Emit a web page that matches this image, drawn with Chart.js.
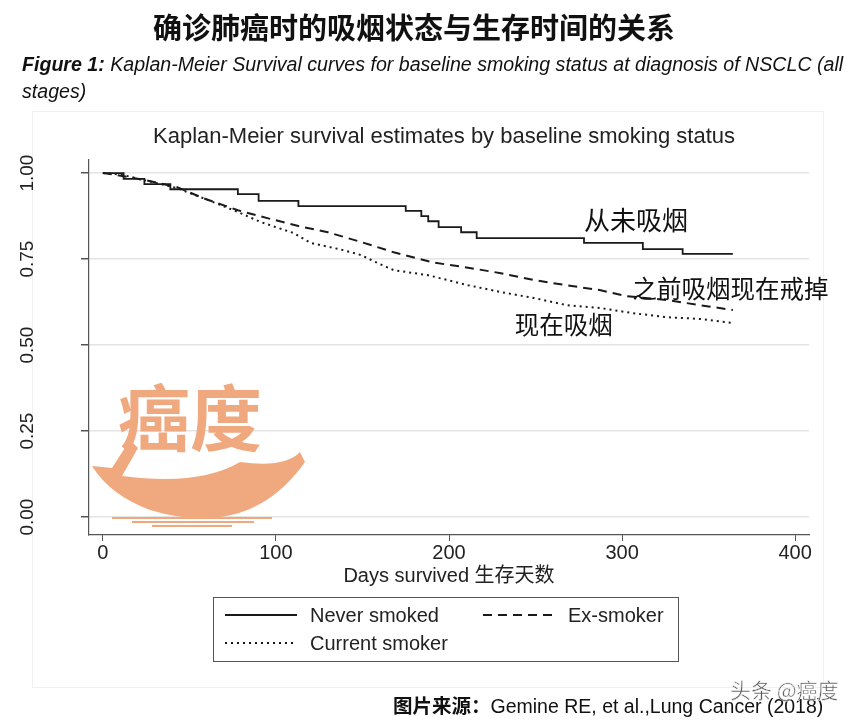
<!DOCTYPE html>
<html>
<head>
<meta charset="utf-8">
<script src="https://cdn.jsdelivr.net/npm/chart.js@4.4.1/dist/chart.umd.min.js"></script>
<style>
  html, body { margin: 0; padding: 0; background: #fff; }
  #wrap { position: relative; width: 864px; height: 725px; overflow: hidden; }
  #frame { position: absolute; left: 32px; top: 111px; width: 792px; height: 577px; border: 1px solid #f0f0f0; box-sizing: border-box; }
  #c { position: absolute; left: 0; top: 0; }
  #head { position: absolute; left: 0; width: 828px; top: 5px; text-align: center; font-family: "Noto Sans CJK SC"; font-weight: 700; font-size: 29px; color: #111; }
  #cap { position: absolute; left: 22px; top: 51px; font-family: "Liberation Sans"; font-style: italic; font-size: 19.6px; line-height: 27px; color: #111; }
  #src { position: absolute; left: 393px; top: 690px; font-family: "Liberation Sans", "Noto Sans CJK SC"; font-size: 19.5px; color: #111; }
  #src b { font-family: "Noto Sans CJK SC"; font-weight: 700; }
  #wm { position: absolute; left: 730px; top: 674px; font-family: "Noto Sans CJK SC"; font-size: 21px; color: rgba(60,60,60,0.85); -webkit-text-stroke: 0.5px #fff; }
</style>
</head>
<body>
<div id="wrap">
  <div id="frame"></div>
  <canvas id="c" width="864" height="725"></canvas>
  <div id="head">确诊肺癌时的吸烟状态与生存时间的关系</div>
  <div id="cap"><b>Figure 1:</b> Kaplan-Meier Survival curves for baseline smoking status at diagnosis of NSCLC (all<br>stages)</div>
  <div id="src"><b>图片来源：</b>Gemine RE, et al.,Lung Cancer (2018)</div>
  <div id="wm">头条 @癌度</div>
</div>
<script>
// survival estimates (days, survival)
const neverDays = [0, 12, 24, 39, 78, 90, 113, 175, 184, 188, 194, 207, 216, 278, 312, 335, 364];
const neverSurv = [1.0, 0.983, 0.968, 0.953, 0.939, 0.919, 0.904, 0.890, 0.875, 0.860, 0.843, 0.828, 0.811, 0.797, 0.779, 0.765, 0.765];

const exDays = [0, 6, 12, 24, 43, 58, 78, 95, 113, 130, 149, 168, 191, 211, 230, 249, 268, 287, 303, 326, 345, 364];
const exSurv = [1.0, 0.996, 0.991, 0.980, 0.959, 0.927, 0.892, 0.869, 0.846, 0.828, 0.800, 0.770, 0.740, 0.725, 0.709, 0.689, 0.674, 0.660, 0.642, 0.631, 0.616, 0.602];

const curDays = [0, 6, 12, 43, 58, 78, 91, 110, 120, 139, 149, 159, 168, 188, 211, 230, 249, 268, 287, 306, 326, 345, 364];
const curSurv = [1.0, 0.998, 0.994, 0.956, 0.927, 0.887, 0.858, 0.826, 0.797, 0.776, 0.762, 0.738, 0.718, 0.703, 0.674, 0.654, 0.637, 0.616, 0.608, 0.593, 0.581, 0.576, 0.564];

const seriesNames = ['Never smoked', 'Ex-smoker', 'Current smoker'];
const xTicks = [0, 100, 200, 300, 400];
const yTicks = [0, 0.25, 0.5, 0.75, 1];

const pts = (xs, ys) => xs.map((x, i) => ({x: x, y: ys[i]}));
const ctx = document.getElementById('c').getContext('2d');

// left axis labels, rotated like the Stata original
const yLabels = {
    id: 'yLabels',
    afterDraw: (chart) => {
        const c = chart.ctx, y = chart.scales.y;
        c.save();
        c.font = '19px "Liberation Sans"';
        c.fillStyle = '#222';
        c.textAlign = 'center';
        c.textBaseline = 'middle';
        yTicks.forEach(v => {
            c.save();
            c.translate(28, y.getPixelForValue(v));
            c.rotate(-Math.PI / 2);
            c.fillText(v.toFixed(2), 0, 0);
            c.restore();
        });
        c.restore();
    }
};

// faint logo watermark behind the curves
const logo = {
    id: 'logo',
    beforeDatasetsDraw: (chart) => {
        const c = chart.ctx;
        c.save();
        c.fillStyle = '#f0a97f';
        c.beginPath();
        c.moveTo(92, 466);
        c.lineTo(112, 468);
        c.lineTo(130, 440);
        c.lineTo(138, 448);
        c.lineTo(122, 476);
        c.quadraticCurveTo(200, 486, 240, 462);
        c.quadraticCurveTo(285, 468, 300, 452);
        c.lineTo(305, 462);
        c.quadraticCurveTo(250, 540, 150, 510);
        c.quadraticCurveTo(110, 495, 92, 466);
        c.closePath();
        c.fill();
        c.font = 'bold 72px "Noto Sans CJK SC"';
        c.textBaseline = 'middle';
        c.fillText('癌度', 118, 418);
        c.fillRect(112, 517, 160, 2);
        c.fillRect(132, 521, 122, 2);
        c.fillRect(152, 525, 80, 2);
        c.restore();
    }
};

// chinese curve labels
const notes = {
    id: 'notes',
    afterDatasetsDraw: (chart) => {
        const c = chart.ctx, x = chart.scales.x, y = chart.scales.y;
        c.save();
        c.fillStyle = '#111';
        c.textBaseline = 'middle';
        c.font = '26px "Noto Sans CJK SC"';
        c.fillText('从未吸烟', x.getPixelForValue(278), y.getPixelForValue(0.863));
        c.font = '24.5px "Noto Sans CJK SC"';
        c.fillText('之前吸烟现在戒掉', x.getPixelForValue(306), y.getPixelForValue(0.663));
        c.fillText('现在吸烟', x.getPixelForValue(238), y.getPixelForValue(0.558));
        c.restore();
    }
};

// boxed legend, two columns
const boxLegend = {
    id: 'boxLegend',
    afterDraw: (chart) => {
        const c = chart.ctx;
        const ds = chart.data.datasets;
        const spots = [[225, 615], [483, 615], [225, 643]];
        c.save();
        c.strokeStyle = '#555';
        c.lineWidth = 1;
        c.strokeRect(213.5, 597.5, 465, 64);
        c.font = '20px "Liberation Sans"';
        c.fillStyle = '#222';
        c.textBaseline = 'middle';
        ds.forEach((d, i) => {
            const [sx, sy] = spots[i];
            c.save();
            c.strokeStyle = d.borderColor;
            c.lineWidth = d.borderWidth;
            c.setLineDash(d.borderDash || []);
            c.beginPath();
            c.moveTo(sx, sy);
            c.lineTo(sx + 72, sy);
            c.stroke();
            c.restore();
            c.fillText(d.label, sx + 85, sy + 1);
        });
        c.restore();
    }
};

const myChart = new Chart(ctx, {
    type: 'line',
    data: {
        datasets: [
            {label: seriesNames[0], data: pts(neverDays, neverSurv), stepped: true, borderColor: '#1a1a1a', borderWidth: 1.8, pointRadius: 0},
            {label: seriesNames[1], data: pts(exDays, exSurv), borderColor: '#1a1a1a', borderWidth: 2, borderDash: [9, 6], pointRadius: 0},
            {label: seriesNames[2], data: pts(curDays, curSurv), borderColor: '#1a1a1a', borderWidth: 2, borderDash: [2, 4], pointRadius: 0}
        ]
    },
    options: {
        responsive: false,
        animation: false,
        layout: {padding: {left: 79, right: 55, top: 112, bottom: 130}},
        plugins: {
            legend: {display: false},
            tooltip: {enabled: false},
            title: {
                display: true,
                text: 'Kaplan-Meier survival estimates by baseline smoking status',
                color: '#222',
                font: {family: 'Liberation Sans', size: 22, weight: 'normal', lineHeight: 1.2},
                padding: {top: 12, bottom: 9.6}
            }
        },
        scales: {
            x: {
                type: 'linear',
                min: -8,
                max: 408,
                afterBuildTicks: (s) => { s.ticks = xTicks.map(v => ({value: v})); },
                afterFit: (s) => { s.height = 60; },
                grid: {drawOnChartArea: false, tickLength: 6, tickColor: '#555'},
                border: {color: '#555', width: 1.2},
                ticks: {color: '#222', padding: 0, font: {family: 'Liberation Sans', size: 20}, maxRotation: 0},
                title: {display: true, text: 'Days survived 生存天数', color: '#222',
                        font: {family: 'Liberation Sans, Noto Sans CJK SC', size: 20, lineHeight: 1.2},
                        padding: {top: 0, bottom: 7}}
            },
            y: {
                min: -0.052,
                max: 1.038,
                afterBuildTicks: (s) => { s.ticks = yTicks.map(v => ({value: v})); },
                afterFit: (s) => { s.width = 10; },
                grid: {color: '#e4e4e4', lineWidth: 1.5, tickLength: 8, tickColor: '#555'},
                border: {color: '#555', width: 1.2},
                ticks: {display: false}
            }
        }
    },
    plugins: [logo, notes, yLabels, boxLegend]
});
</script>
</body>
</html>
